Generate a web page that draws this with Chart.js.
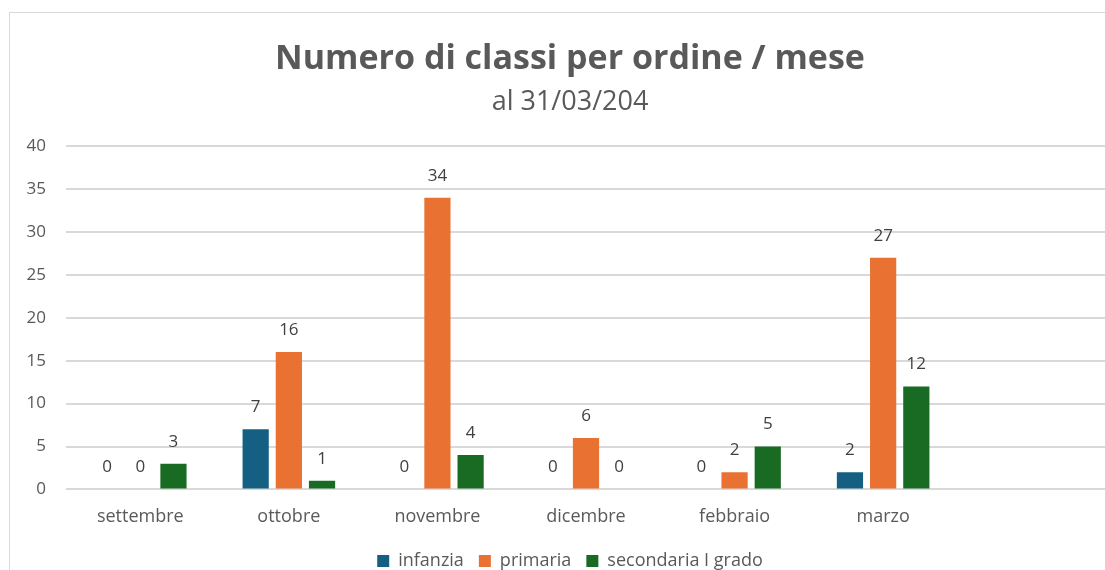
<!DOCTYPE html>
<html>
<head>
<meta charset="utf-8">
<script src="https://cdn.jsdelivr.net/npm/chart.js@4/dist/chart.umd.min.js"></script>
<style>
  html, body { margin: 0; padding: 0; background: #fff; overflow: hidden; }
  #box { position: absolute; left: 9px; top: 12px; width: 1122px; height: 580px; border: 1px solid #d9d9d9; box-sizing: border-box; }
  canvas { display: block; }
</style>
</head>
<body>
<div id="box"><canvas id="c" width="1120" height="578"></canvas></div>
<script>
const mesi = ["settembre", "ottobre", "novembre", "dicembre", "febbraio", "marzo", ""];
const infanzia = [0, 7, 0, 0, 0, 2];
const primaria = [0, 16, 34, 6, 2, 27];
const secondaria = [3, 1, 4, 0, 5, 12];
const yTicks = [0, 5, 10, 15, 20, 25, 30, 35, 40];

const grey = "#595959";
const font = "'Open Sans', sans-serif";

// labels above bars, drawn by hand since no datalabels plugin is loaded
const valueLabels = {
  id: "valueLabels",
  afterDatasetsDraw(chart) {
    const ctx = chart.ctx;
    ctx.save();
    ctx.font = "17px " + font;
    ctx.fillStyle = "#404040";
    ctx.textAlign = "center";
    ctx.textBaseline = "middle";
    chart.data.datasets.forEach((ds, i) => {
      chart.getDatasetMeta(i).data.forEach((bar, j) => {
        if (ds.data[j] == null) return;
        ctx.fillText(String(ds.data[j]), bar.x, bar.y - 22);
      });
    });
    ctx.restore();
  }
};

new Chart(document.getElementById("c"), {
  type: "bar",
  data: {
    labels: mesi,
    datasets: [
      { label: "infanzia", data: infanzia, backgroundColor: "#156082" },
      { label: "primaria", data: primaria, backgroundColor: "#E97132" },
      { label: "secondaria I grado", data: secondaria, backgroundColor: "#196B24" }
    ]
  },
  options: {
    responsive: false,
    animation: false,
    layout: { padding: { left: 0, right: 0, bottom: 11 } },
    datasets: { bar: { categoryPercentage: 0.67, barPercentage: 0.79 } },
    plugins: {
      title: {
        display: true,
        text: "Numero di classi per ordine / mese",
        color: grey,
        font: { family: font, size: 34, weight: "bold" },
        padding: { top: 26, bottom: 0 }
      },
      subtitle: {
        display: true,
        text: "al 31/03/204",
        color: grey,
        font: { family: font, size: 27 },
        padding: { top: 6, bottom: 28 }
      },
      legend: {
        position: "bottom",
        labels: {
          color: grey,
          font: { family: font, size: 18 },
          boxWidth: 12,
          boxHeight: 12,
          padding: 15
        }
      },
      tooltip: { enabled: false }
    },
    scales: {
      x: {
        grid: { display: false },
        border: { display: false },
        ticks: { color: grey, font: { family: font, size: 18 }, padding: 9 }
      },
      y: {
        min: 0,
        max: 40,
        afterFit(scale) { scale.width = 56; },
        afterBuildTicks(scale) { scale.ticks = yTicks.map(v => ({ value: v })); },
        grid: { color: "#d9d9d9", lineWidth: 2, drawTicks: false },
        border: { display: false },
        ticks: { color: grey, font: { family: font, size: 17 }, padding: 20 }
      },
      // empty axis on the right, only to leave the blank strip past the last category
      spacer: {
        position: "right",
        afterFit(scale) { scale.width = 24; },
        grid: { display: false },
        border: { display: false },
        ticks: { display: false }
      }
    }
  },
  plugins: [valueLabels]
});
</script>
</body>
</html>
